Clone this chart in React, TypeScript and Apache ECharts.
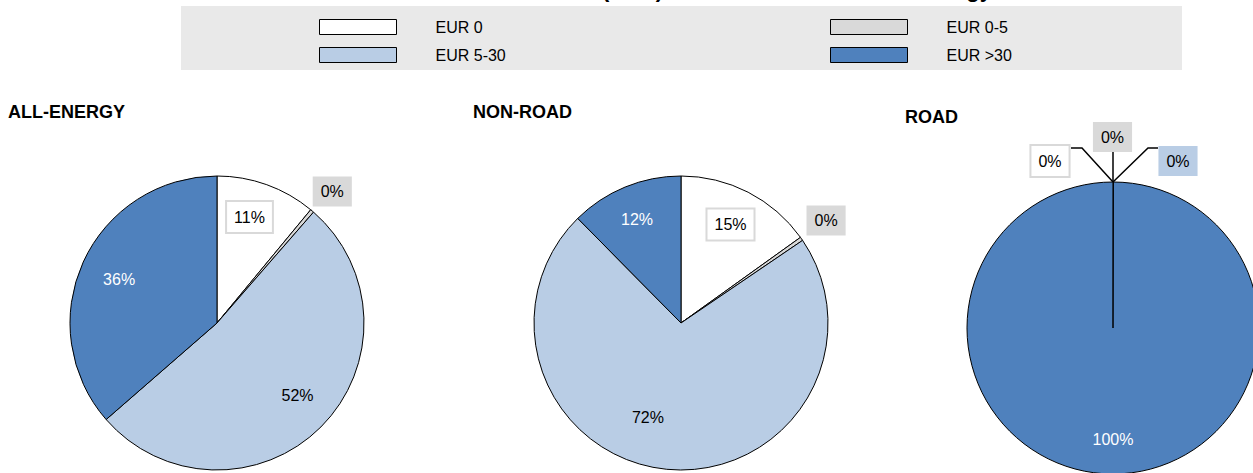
import React, { useEffect, useRef } from 'react';
import * as echarts from 'echarts';

// ---------- data ----------
const categories = ['EUR 0', 'EUR 0-5', 'EUR 5-30', 'EUR >30'];
const allEnergy = [11.0, 0.4, 52.2, 36.4];
const nonRoad = [15.1, 0.4, 72.1, 12.4];
const road = [0, 0, 0, 100];
const pieTitles = ['ALL-ENERGY', 'NON-ROAD', 'ROAD'];
const chartTitle = 'Effective carbon rates (EUR) on CO\u2082 emissions from energy';

// ---------- styles / layout ----------
const FONT = "'Liberation Sans', Arial, sans-serif";
const sliceColors = ['#ffffff', '#d9d9d9', '#b9cde5', '#4f81bd'];

const pies = [
  { values: allEnergy, center: [217, 323], radius: 147, title: [8, 112] },
  { values: nonRoad, center: [681, 323], radius: 147, title: [473, 112] },
  { values: road, center: [1113, 328], radius: 146, title: [905, 117] },
];

// radial placement of labels: k = fraction of radius, dt = angle tweak (deg)
const radialSpec: Record<number, { k: number; dt: number }[]> = {
  0: [
    { k: 0.754, dt: -2.75 },
    { k: 1.19, dt: 0.9 },
    { k: 0.737, dt: -3.0 },
    { k: 0.73, dt: -0.3 },
  ],
  1: [
    { k: 0.75, dt: -0.5 },
    { k: 1.208, dt: -0.3 },
    { k: 0.684, dt: 13.6 },
    { k: 0.765, dt: -0.7 },
  ],
  2: [
    { k: 0, dt: 0 },
    { k: 0, dt: 0 },
    { k: 0, dt: 0 },
    { k: 0.767, dt: 0 },
  ],
};

// leader-line labels on the ROAD pie; points relative to the top of the pie
const roadCallouts: Record<number, { pos: number[]; line: number[][] }> = {
  0: { pos: [-63, -21], line: [[0, 0], [-31, -34], [-42, -34]] },
  1: { pos: [-0.5, -45], line: [[0, 0], [0, -15], [0, -30]] },
  2: { pos: [65, -21], line: [[0, 0], [35, -34], [45, -34]] },
};

const labelStyles = [
  { color: '#000', backgroundColor: '#ffffff', borderColor: '#d9d9d9', borderWidth: 2, padding: [7, 7] },
  { color: '#000', backgroundColor: '#d9d9d9', padding: [7, 8] },
  { color: '#000' },
  { color: '#ffffff' },
];

function buildSeries(pieIdx: number) {
  const p = pies[pieIdx];
  const total = p.values.reduce((a, b) => a + b, 0);
  const isRoad = pieIdx === 2;
  return {
    type: 'pie',
    name: pieTitles[pieIdx],
    center: p.center,
    radius: p.radius,
    startAngle: 90,
    clockwise: true,
    // empty slices keep a hairline so their shared edge is drawn
    minAngle: isRoad ? 0.05 : 0,
    avoidLabelOverlap: false,
    silent: true,
    itemStyle: { borderColor: '#000', borderWidth: 1 },
    label: {
      show: true,
      position: 'inside',
      fontFamily: FONT,
      fontSize: 16,
      formatter: (prm: any) => Math.round(prm.value) + '%',
    },
    labelLine: { show: false },
    data: p.values.map((v, i) => {
      const ls: any = { ...labelStyles[i] };
      if (isRoad && i === 2) {
        ls.backgroundColor = '#b9cde5';
        ls.padding = [7, 8];
      }
      const outside = i === 1 || (isRoad && i < 3);
      return {
        name: categories[i],
        value: v,
        itemStyle: { color: sliceColors[i] },
        label: { ...ls, position: outside ? 'outside' : 'inside' },
        labelLine: isRoad && i < 3
          ? { show: true, lineStyle: { color: '#000', width: 1.5 } }
          : { show: false },
      };
    }),
    labelLayout: (prm: any) => {
      const i = prm.dataIndex;
      const [cx, cy] = p.center;
      const r = p.radius;
      if (isRoad && i < 3) {
        const c = roadCallouts[i];
        const tx = cx;
        const ty = cy - r;
        return {
          x: tx + c.pos[0],
          y: ty + c.pos[1],
          align: 'center',
          verticalAlign: 'middle',
          labelLinePoints: c.line.map((pt) => [tx + pt[0], ty + pt[1]]),
        };
      }
      const before = p.values.slice(0, i).reduce((a, b) => a + b, 0);
      const spec = radialSpec[pieIdx][i];
      const mid = ((before + p.values[i] / 2) / total) * 360 + spec.dt;
      const rad = (mid * Math.PI) / 180;
      return {
        x: cx + spec.k * r * Math.sin(rad),
        y: cy - spec.k * r * Math.cos(rad),
        align: 'center',
        verticalAlign: 'middle',
      };
    },
  };
}

const legendCommon = {
  orient: 'vertical',
  top: 19,
  padding: 0,
  itemWidth: 77,
  itemHeight: 15,
  itemGap: 12,
  icon: 'rect',
  selectedMode: false,
  itemStyle: { borderColor: '#000', borderWidth: 1 },
  textStyle: { fontFamily: FONT, fontSize: 16, color: '#000', padding: [0, 0, 0, 34] },
};

const option: any = {
  animation: false,
  backgroundColor: '#ffffff',
  textStyle: { fontFamily: FONT },
  graphic: [
    {
      type: 'rect',
      z: 0,
      shape: { x: 181, y: 6, width: 1001, height: 64 },
      style: { fill: '#e9e9e9' },
    },
    {
      type: 'text',
      z: 1,
      x: 366,
      y: -11,
      style: {
        text: chartTitle,
        fontFamily: FONT,
        fontSize: 22,
        fontWeight: 'bold',
        fill: '#000',
        align: 'left',
        verticalAlign: 'middle',
      },
    },
  ],
  title: pies.map((p, i) => ({
    text: pieTitles[i],
    left: p.title[0],
    top: p.title[1] - 9,
    padding: 0,
    textStyle: { fontFamily: FONT, fontSize: 18, fontWeight: 'bold', color: '#000' },
  })),
  legend: [
    { ...legendCommon, left: 319, data: [categories[0], categories[2]] },
    { ...legendCommon, left: 830, data: [categories[1], categories[3]] },
  ],
  series: [buildSeries(0), buildSeries(1), buildSeries(2)],
};

export default function App() {
  const ref = useRef<HTMLDivElement>(null);
  useEffect(() => {
    document.body.style.margin = '0';
    const chart = echarts.init(ref.current as HTMLDivElement, null, { renderer: 'svg' });
    chart.setOption(option);
    return () => chart.dispose();
  }, []);
  return <div ref={ref} style={{ width: 1253, height: 473 }} />;
}
